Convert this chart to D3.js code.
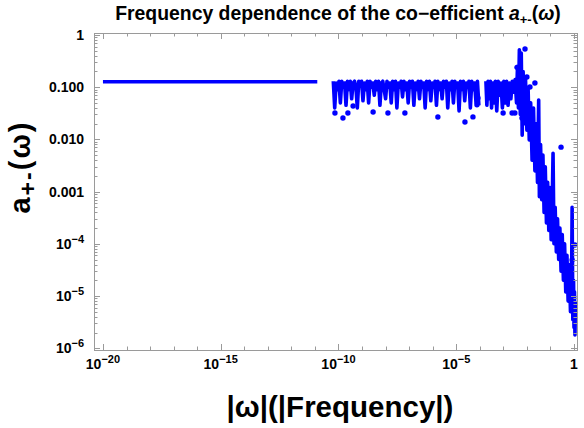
<!DOCTYPE html>
<html>
<head>
<meta charset="utf-8">
<script src="https://cdn.jsdelivr.net/npm/d3@7"></script>
<style>
  html, body { margin: 0; padding: 0; background: #fff; }
  svg { display: block; font-family: "Liberation Sans", Arial, sans-serif; }
</style>
</head>
<body>
<svg id="chart" width="584" height="428"></svg>
<script>
// ---------------- DATA (x given as log10 |ω|, y as a+-(ω)) ----------------
const flatLogX = [-20.0, -18.5, -17.0, -15.5, -14.2, -12.8, -11.6, -10.9];
const flatY    = [0.127, 0.127, 0.127, 0.127, 0.127, 0.127, 0.127, 0.127];

const plateauLogX = [-10.22, -10.16, -10.10, -10.04, -9.98, -9.92, -9.86, -9.80, -9.74, -9.68,
                     -9.62, -9.56, -9.50, -9.44, -9.38, -9.32, -9.26, -9.20, -9.14, -9.08,
                     -9.02, -8.96, -8.90, -8.84, -8.78, -8.72, -8.66, -8.60, -8.54, -8.48,
                     -8.42, -8.36, -8.30, -8.24, -8.18, -8.12, -8.06, -8.00, -7.94, -7.88,
                     -7.82, -7.76, -7.70, -7.64, -7.58, -7.52, -7.46, -7.40, -7.34, -7.28,
                     -7.22, -7.16, -7.10, -7.04, -6.98, -6.92, -6.86, -6.80, -6.74, -6.68,
                     -6.62, -6.56, -6.50, -6.44, -6.38, -6.32, -6.26, -6.20, -6.14, -6.08,
                     -6.02, -5.96, -5.90, -5.84, -5.78, -5.72, -5.66, -5.60, -5.54, -5.48,
                     -5.42, -5.36, -5.30, -5.24, -5.18, -5.12, -5.06, -5.00, -4.94, -4.88,
                     -4.82, -4.76, -4.70, -4.64, -4.58, -4.52, -4.46, -4.40, -4.34, -4.28,
                     -4.22, -4.16, -4.10, -4.04];
const plateauY = [0.13, 0.04, 0.12, 0.09, 0.13, 0.05, 0.13, 0.1, 0.12, 0.045,
                  0.13, 0.09, 0.13, 0.06, 0.12, 0.13, 0.1, 0.04, 0.13, 0.11,
                  0.13, 0.055, 0.12, 0.09, 0.13, 0.05, 0.13, 0.1, 0.12, 0.07,
                  0.13, 0.09, 0.13, 0.045, 0.12, 0.13, 0.09, 0.06, 0.13, 0.1,
                  0.12, 0.05, 0.13, 0.09, 0.13, 0.04, 0.12, 0.1, 0.13, 0.065,
                  0.13, 0.09, 0.12, 0.05, 0.13, 0.1, 0.13, 0.045, 0.12, 0.09,
                  0.13, 0.06, 0.13, 0.1, 0.12, 0.04, 0.13, 0.09, 0.13, 0.055,
                  0.12, 0.1, 0.13, 0.045, 0.13, 0.09, 0.12, 0.06, 0.13, 0.1,
                  0.13, 0.04, 0.12, 0.09, 0.13, 0.05, 0.13, 0.1, 0.12, 0.035,
                  0.13, 0.09, 0.13, 0.055, 0.12, 0.1, 0.13, 0.04, 0.13, 0.09,
                  0.12, 0.05, 0.13, 0.045];

const fallLogX = [-3.74, -3.70, -3.65, -3.60, -3.55, -3.50, -3.45, -3.40, -3.34, -3.28,
                  -3.22, -3.16, -3.10, -3.04, -2.98, -2.92, -2.86, -2.80, -2.74, -2.68,
                  -2.62, -2.56, -2.50, -2.44, -2.40, -2.36, -2.32, -2.28, -2.24, -2.20,
                  -2.16, -2.12, -2.06, -2.00, -1.95, -1.90, -1.84, -1.78, -1.72, -1.66,
                  -1.60, -1.55, -1.50, -1.47, -1.42, -1.37, -1.32, -1.27, -1.22, -1.17,
                  -1.12, -1.07, -1.02, -0.97, -0.92, -0.89, -0.85, -0.80, -0.75, -0.70,
                  -0.65, -0.60, -0.55, -0.50, -0.45, -0.40, -0.35, -0.30, -0.25, -0.20,
                  -0.15, -0.10, -0.08, -0.05, -0.02, 0.00, 0.02, 0.04, 0.06];
const fallY = [0.13, 0.045, 0.13, 0.06, 0.13, 0.04, 0.12, 0.05, 0.13, 0.035,
               0.13, 0.07, 0.12, 0.04, 0.13, 0.05, 0.13, 0.045, 0.12, 0.06,
               0.13, 0.08, 0.14, 0.05, 0.25, 0.04, 0.52, 0.03, 0.45, 0.012,
               0.2, 0.02, 0.15, 0.015, 0.1, 0.0098, 0.05, 0.004, 0.04, 0.0025,
               0.02, 0.0015, 0.057, 0.0008, 0.008, 0.0007, 0.005, 0.0004, 0.003, 0.00025,
               0.0015, 0.00018, 0.0012, 0.00012, 0.0008, 0.0054, 0.0001, 0.0005, 0.00007, 0.0003,
               0.00005, 0.0002, 0.00003, 0.00015, 0.00002, 0.0001, 0.000012, 0.00006, 0.000008, 0.00004,
               0.000005, 0.00003, 0.0005, 0.0000035, 0.00002, 0.0000025, 0.000012, 0.0000018, 0.000008];

const dotLogX = [-10.15, -9.81, -9.60, -9.38, -8.53, -7.90, -7.18, -5.78, -4.63, -4.29,
                 -4.12, -4.08, -3.01, -2.63, -2.51, -2.21, -2.42, -2.08, -2.00, -1.87,
                 -1.66, -2.00, -0.55, 0.09, 0.04, -0.08];
const dotY = [0.032, 0.0257, 0.032, 0.0436, 0.0335, 0.032, 0.032, 0.0269, 0.0216, 0.027,
              0.046, 0.062, 0.032, 0.032, 0.032, 0.0257, 0.24, 0.54, 0.157, 0.101,
              0.12, 0.077, 0.0071, 0.0000061, 0.000095, 0.000049];

const xMajorExp = [-20, -15, -10, -5, 0];
const xMinorExp = [-19, -18, -17, -16, -14, -13, -12, -11, -9, -8, -7, -6, -4, -3, -2, -1];
const yMajor = [1, 0.1, 0.01, 0.001, 1e-4, 1e-5, 1e-6];
const yMajorLabels = [["1", ""], ["0.100", ""], ["0.010", ""], ["0.001", ""], ["10", "−4"], ["10", "−5"], ["10", "−6"]];
const titleText = "Frequency dependence of the co\u2212efficient ";

// ---------------- LAYOUT ----------------
const svg = d3.select("#chart");
const L = 94, R = 577, T = 33, B = 350;
const blue = "#0000ff";
const frameColor = "#9a9a9a";

const x = d3.scaleLog().domain([Math.pow(10, -20.38), Math.pow(10, 0.127)]).range([L, R]);
const y = d3.scaleLog().domain([Math.pow(10, -6.034), Math.pow(10, 0.038)]).range([B, T]);

const pts = (lx, ys) => lx.map((e, i) => [Math.pow(10, e), ys[i]]);

svg.append("clipPath").attr("id", "clip").append("rect")
  .attr("x", L).attr("y", T).attr("width", R - L).attr("height", B - T);

const plot = svg.append("g").attr("clip-path", "url(#clip)");
const line = d3.line().x(d => x(d[0])).y(d => y(d[1]));

[pts(flatLogX, flatY), pts(plateauLogX, plateauY), pts(fallLogX, fallY)].forEach(seg => {
  plot.append("path").datum(seg).attr("d", line)
    .attr("fill", "none").attr("stroke", blue).attr("stroke-width", 3.6)
    .attr("stroke-linejoin", "round").attr("stroke-linecap", "butt");
});

plot.selectAll("circle.dot").data(pts(dotLogX, dotY)).enter().append("circle")
  .attr("class", "dot")
  .attr("cx", d => x(d[0])).attr("cy", d => y(d[1])).attr("r", 2.7).attr("fill", blue);

// ---------------- FRAME + TICKS ----------------
const axes = svg.append("g");
axes.append("rect").attr("x", L + 0.5).attr("y", T + 0.5).attr("width", R - L).attr("height", B - T)
  .attr("fill", "none").attr("stroke", frameColor).attr("stroke-width", 1);

const majLen = 6, minLen = 3.5;
function vtick(px, len) {
  axes.append("line").attr("x1", px).attr("x2", px).attr("y1", B).attr("y2", B - len)
    .attr("stroke", frameColor).attr("stroke-width", 1);
  axes.append("line").attr("x1", px).attr("x2", px).attr("y1", T).attr("y2", T + len)
    .attr("stroke", frameColor).attr("stroke-width", 1);
}
function htick(py, len) {
  axes.append("line").attr("y1", py).attr("y2", py).attr("x1", L).attr("x2", L + len)
    .attr("stroke", frameColor).attr("stroke-width", 1);
  axes.append("line").attr("y1", py).attr("y2", py).attr("x1", R).attr("x2", R - len)
    .attr("stroke", frameColor).attr("stroke-width", 1);
}
xMajorExp.forEach(e => vtick(Math.round(x(Math.pow(10, e))) + 0.5, majLen));
xMinorExp.forEach(e => vtick(Math.round(x(Math.pow(10, e))) + 0.5, minLen));

const yDom = y.domain();
yMajor.forEach(v => htick(Math.round(y(v)) + 0.5, majLen));
for (let d = -7; d <= 0; d++) {
  for (let m = 2; m <= 9; m++) {
    const v = m * Math.pow(10, d);
    if (v > yDom[0] && v < yDom[1]) htick(Math.round(y(v)) + 0.5, minLen);
  }
}

// tick labels
const xl = svg.append("g").attr("font-weight", "bold").attr("fill", "#000");
xMajorExp.forEach(e => {
  const t = xl.append("text").attr("x", x(Math.pow(10, e))).attr("y", 369)
    .attr("text-anchor", "middle").attr("font-size", 14);
  if (e === 0) { t.text("1"); }
  else {
    t.append("tspan").text("10");
    t.append("tspan").attr("dy", -6).attr("font-size", 11).text("\u2212" + Math.abs(e));
  }
});
yMajor.forEach((v, i) => {
  const t = xl.append("text").attr("x", 84).attr("y", y(v) + 5)
    .attr("text-anchor", "end").attr("font-size", 14);
  const lab = yMajorLabels[i];
  t.append("tspan").text(lab[0]);
  if (lab[1]) t.append("tspan").attr("dy", -6).attr("font-size", 11).text(lab[1]);
});

// title
const title = svg.append("text").attr("x", 338).attr("y", 20).attr("text-anchor", "middle")
  .attr("font-size", 19.4).attr("font-weight", "bold").attr("fill", "#000");
title.append("tspan").text(titleText);
title.append("tspan").attr("font-style", "italic").text("a");
title.append("tspan").attr("font-size", 13).attr("dy", 4).text("+-");
title.append("tspan").attr("dy", -4).text("(");
title.append("tspan").attr("font-style", "italic").text("\u03c9");
title.append("tspan").text(")");

// axis labels
svg.append("text").attr("x", 340).attr("y", 417).attr("text-anchor", "middle")
  .attr("font-size", 29.5).attr("font-weight", "bold").attr("fill", "#000")
  .text("|\u03c9|(|Frequency|)");

const ylab = svg.append("text").attr("transform", "translate(30,167) rotate(-90)")
  .attr("text-anchor", "middle").attr("font-size", 29).attr("font-weight", "bold")
  .attr("letter-spacing", 2).attr("fill", "#000");
ylab.append("tspan").text("a");
ylab.append("tspan").attr("font-size", 23).attr("dy", 6).text("+-");
ylab.append("tspan").attr("dy", -6).text("(\u03c9)");
</script>
</body>
</html>
